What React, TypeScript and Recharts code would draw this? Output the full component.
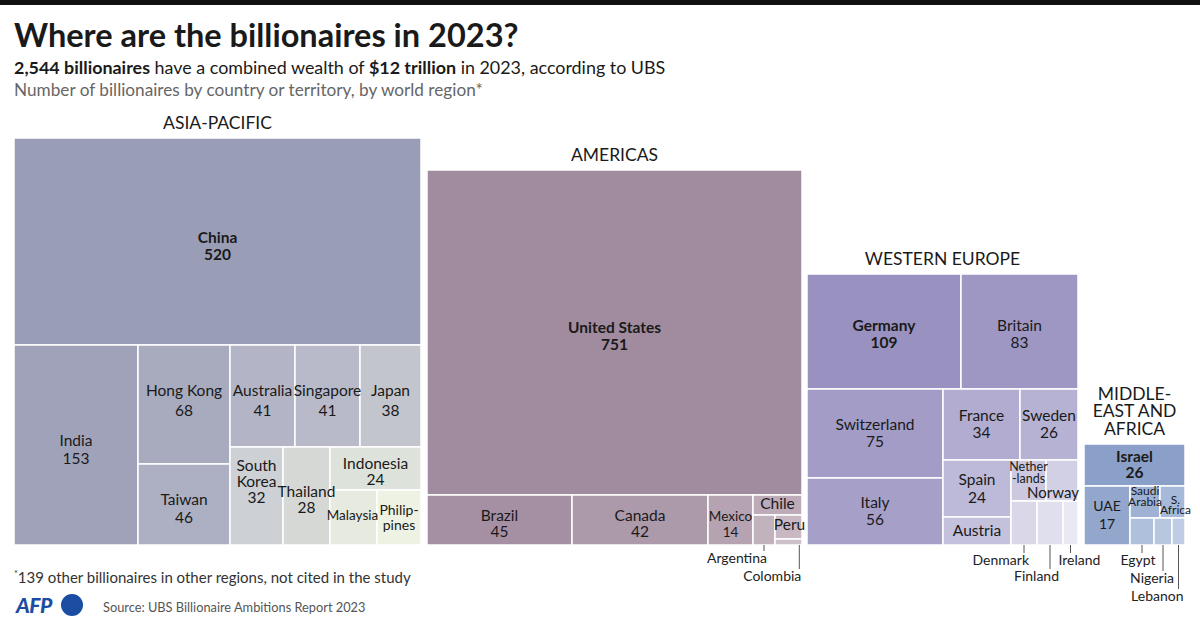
import React from "react";
import { Treemap } from "recharts";

// values (UBS Billionaire Ambitions Report 2023)
const asiaNames = ["China", "India", "Hong Kong", "Taiwan", "Australia", "Singapore", "Japan", "South Korea", "Thailand", "Indonesia", "Malaysia", "Philippines"];
const asiaValues = [520, 153, 68, 46, 41, 41, 38, 32, 28, 24, 16, 15];
const asiaColors = ["#9a9db6", "#a0a2b9", "#a8aabe", "#adafc2", "#b3b5c6", "#b8bac9", "#c3c5cd", "#cdd0d4", "#d5d8d5", "#dde2da", "#e6eadf", "#eef2e3"];

const americasNames = ["United States", "Brazil", "Canada", "Mexico", "Chile", "Argentina", "Peru", "Colombia"];
const americasValues = [751, 45, 42, 14, 6, 4, 4, 1];
const americasColors = ["#a08b9f", "#a590a3", "#ac99a9", "#b5a3b2", "#bdabb9", "#c2b2be", "#c7b8c4", "#cdc0ca"];

const europeNames = ["Germany", "Britain", "Switzerland", "Italy", "France", "Sweden", "Spain", "Austria", "Netherlands", "Norway", "Denmark", "Finland", "Ireland"];
const europeValues = [109, 83, 75, 56, 34, 26, 24, 12, 9, 8, 7, 7, 4];
const europeColors = ["#9991c0", "#9e97c4", "#a29cc7", "#a6a0c9", "#b1acd0", "#b6b2d4", "#bdb9d8", "#c4c1dc", "#cbc8e0", "#d2d0e4", "#d9d7e8", "#e0dfed", "#e9e8f3"];

const meaNames = ["Israel", "UAE", "Saudi Arabia", "South Africa", "Egypt", "Nigeria", "Lebanon"];
const meaValues = [26, 17, 6, 5, 4, 3, 2];
const meaColors = ["#8aa0c8", "#93a7cd", "#9fb2d4", "#a7b9d8", "#afc0dc", "#b7c7e0", "#bfcde4"];

// how the countries are grouped inside each block (indexes into the arrays above)
type Group = number | Group[];
const asiaGroups: Group[] = [0, [1, [2, 3], [[4, 5, 6], [7, 8, [9, [10, 11]]]]]];
const americasGroups: Group[] = [0, [1, 2, 3, [4, [5, [6, 7]]]]];
const europeGroups: Group[] = [[0, 1], [[2, 3], [[4, 5], [[6, 7], [[8, 9], [[10, 11], 12]]]]]];
const meaGroups: Group[] = [0, [1, [[2, 3], [4, 5, 6]]]];

const FONT = "Lato, 'Noto Sans', sans-serif";
const AREA_PER_UNIT = 162;
const BOTTOM = 545;

const labelLines: Record<string, string[]> = {
  "South Korea": ["South", "Korea"],
  Philippines: ["Philip-", "pines"],
  Netherlands: ["Nether", "-lands"],
  "Saudi Arabia": ["Saudi", "Arabia"],
  "South Africa": ["S.", "Africa"],
};
const hideValue = new Set(["Malaysia", "Philippines", "Chile", "Peru", "Austria", "Netherlands", "Norway", "Saudi Arabia", "South Africa"]);
const boldNames = new Set(["China", "United States", "Germany", "Israel"]);
const smallText: Record<string, number> = {
  Mexico: 13.5, UAE: 14, "Saudi Arabia": 12, "South Africa": 12, Netherlands: 12.5, Norway: 15, Malaysia: 13.5, Philippines: 14,
};
const labelTweak: Record<string, { dx?: number; dy?: number; anchor?: "start" | "middle" | "end"; lh?: number }> = {
  China: { dy: 5, lh: 17 },
  India: { dy: 5 },
  "Hong Kong": { dy: -4, lh: 20 },
  Taiwan: { dy: 4 },
  Australia: { dy: 5, lh: 20 },
  Singapore: { dy: 5, lh: 20 },
  Japan: { dy: 5, lh: 20 },
  "South Korea": { dy: -14, lh: 16 },
  Thailand: { dy: 4, lh: 16 },
  Indonesia: { dy: 3, lh: 16 },
  Malaysia: { dy: -2, dx: -1 },
  Philippines: { lh: 15 },
  "United States": { dy: 4, lh: 17 },
  Brazil: { dy: 4, lh: 16 },
  Canada: { dy: 4, lh: 16 },
  Mexico: { dy: 4, lh: 16 },
  Chile: { dy: -1 },
  Peru: { dx: 1, dy: -2 },
  Germany: { dy: 3, lh: 17 },
  Britain: { dy: 3, lh: 17 },
  Switzerland: { lh: 17 },
  Italy: { lh: 17 },
  France: { lh: 17 },
  Sweden: { lh: 17 },
  Norway: { anchor: "end", dy: 12 },
  Netherlands: { dy: -8, lh: 12 },
  Israel: { lh: 16 },
  "Saudi Arabia": { dy: -6, lh: 11 },
  "South Africa": { dy: 3, lh: 10, dx: 3 },
};
const callouts: Record<string, { len: number; dx: number; anchor: "start" | "middle" | "end"; at?: number }> = {
  Argentina: { len: 6, dx: 3, anchor: "end" },
  Colombia: { len: 24, dx: 2, anchor: "end", at: 0.9 },
  Denmark: { len: 8, dx: 5, anchor: "end" },
  Finland: { len: 24, dx: 9, anchor: "end" },
  Ireland: { len: 8, dx: -12, anchor: "start" },
  Egypt: { len: 8, dx: -4, anchor: "middle" },
  Nigeria: { len: 26, dx: 11, anchor: "end" },
  Lebanon: { len: 44, dx: 5, anchor: "end" },
};

const buildTree = (g: Group, names: string[], values: number[]): any =>
  typeof g === "number"
    ? { name: names[g], value: values[g] }
    : { name: "", children: g.map((c) => buildTree(c, names, values)) };

// rects in one pass, labels in a second pass on top so overflowing names stay visible
const makeCell = (names: string[], colors: string[], labels: boolean) => (props: any) => {
  const { x, y, width, height, name, value, children } = props;
  if (children && children.length) return <g />;
  if (!labels) {
    const fill = colors[names.indexOf(name)] || "#ccc";
    return <rect x={x} y={y} width={width} height={height} fill={fill} stroke="#fff" strokeWidth={1.5} />;
  }
  const cx = x + width / 2;
  const cy = y + height / 2;
  const call = callouts[name];
  if (call) {
    const lx = x + width * (call.at ?? 0.5);
    return (
      <g>
        <line x1={lx} x2={lx} y1={y + height} y2={y + height + call.len} stroke="#555" strokeWidth={1} />
        <text x={lx + call.dx} y={y + height + call.len + 12} textAnchor={call.anchor} fontSize={14} fill="#222" fontFamily={FONT}>
          {name}
        </text>
      </g>
    );
  }
  const tw = labelTweak[name] || {};
  const fs = smallText[name] || 15.5;
  const lh = tw.lh || 18;
  let lines = labelLines[name] || [name];
  if (!hideValue.has(name)) lines = [...lines, String(value)];
  const first = cy - ((lines.length - 1) * lh) / 2 + fs * 0.35 + (tw.dy || 0);
  const tx = tw.anchor === "end" ? x + width + 1 : cx + (tw.dx || 0);
  return (
    <text textAnchor={tw.anchor || "middle"} fontSize={fs} fill="#1a1a1a" fontFamily={FONT} fontWeight={boldNames.has(name) ? 700 : 400}>
      {lines.map((l, i) => (
        <tspan key={i} x={tx} y={first + i * lh}>
          {l}
        </tspan>
      ))}
    </text>
  );
};

const regions = [
  { title: ["ASIA-PACIFIC"], names: asiaNames, values: asiaValues, colors: asiaColors, groups: asiaGroups, left: 14 },
  { title: ["AMERICAS"], names: americasNames, values: americasValues, colors: americasColors, groups: americasGroups, left: 427 },
  { title: ["WESTERN EUROPE"], names: europeNames, values: europeValues, colors: europeColors, groups: europeGroups, left: 807 },
  { title: ["MIDDLE-", "EAST AND", "AFRICA"], names: meaNames, values: meaValues, colors: meaColors, groups: meaGroups, left: 1084 },
];

export default function App() {
  return (
    <div style={{ position: "absolute", left: 0, top: 0, width: 1200, height: 628, background: "#fff", fontFamily: FONT, color: "#1a1a1a", overflow: "hidden" }}>
      <style>{`.recharts-surface{overflow:visible}`}</style>
      <div style={{ position: "absolute", left: 0, top: 0, width: 1200, height: 5, background: "#111" }} />
      <div style={{ position: "absolute", left: 14, top: 15, fontSize: 32.5, fontWeight: 700, lineHeight: "40px", whiteSpace: "nowrap" }}>
        Where are the billionaires in 2023?
      </div>
      <div style={{ position: "absolute", left: 14, top: 56, fontSize: 17.9, lineHeight: "22px", whiteSpace: "nowrap" }}>
        <b>2,544 billionaires</b> have a combined wealth of <b>$12 trillion</b> in 2023, according to UBS
      </div>
      <div style={{ position: "absolute", left: 14, top: 79, fontSize: 17.2, lineHeight: "22px", color: "#666", whiteSpace: "nowrap" }}>
        Number of billionaires by country or territory, by world region*
      </div>

      {regions.map((r) => {
        const total = r.values.reduce((a, b) => a + b, 0);
        const side = Math.round(Math.sqrt(total * AREA_PER_UNIT));
        const top = BOTTOM - side;
        const data = r.groups.map((g) => buildTree(g, r.names, r.values));
        return (
          <React.Fragment key={r.title.join(" ")}>
            <div
              style={{
                position: "absolute",
                left: r.left - 40,
                width: side + 80,
                top: top - 7 - r.title.length * 17.5,
                textAlign: "center",
                fontSize: 17.5,
                lineHeight: "17.5px",
                color: "#1a1a1a",
              }}
            >
              {r.title.map((t) => (
                <div key={t}>{t}</div>
              ))}
            </div>
            <div style={{ position: "absolute", left: r.left, top }}>
              <Treemap width={side} height={side} data={data} dataKey="value" aspectRatio={0.8} isAnimationActive={false} content={makeCell(r.names, r.colors, false)} />
            </div>
            <div style={{ position: "absolute", left: r.left, top, pointerEvents: "none" }}>
              <Treemap width={side} height={side} data={data} dataKey="value" aspectRatio={0.8} isAnimationActive={false} content={makeCell(r.names, r.colors, true)} />
            </div>
          </React.Fragment>
        );
      })}

      <div style={{ position: "absolute", left: 14, top: 565, fontSize: 15, lineHeight: "18px", color: "#333", whiteSpace: "nowrap" }}>
        <sup style={{ fontSize: 9 }}>*</sup>139 other billionaires in other regions, not cited in the study
      </div>
      <svg style={{ position: "absolute", left: 14, top: 592 }} width={72} height={28}>
        <text x={2} y={21} fontFamily="Lato, sans-serif" fontWeight={900} fontStyle="italic" fontSize={21} fill="#1b4ea3" letterSpacing={-0.5}>
          AFP
        </text>
        <circle cx={58} cy={13} r={11} fill="#1b4ea3" />
      </svg>
      <div style={{ position: "absolute", left: 103, top: 598, fontSize: 12.8, lineHeight: "18px", color: "#555", whiteSpace: "nowrap" }}>
        Source: UBS Billionaire Ambitions Report 2023
      </div>
    </div>
  );
}
